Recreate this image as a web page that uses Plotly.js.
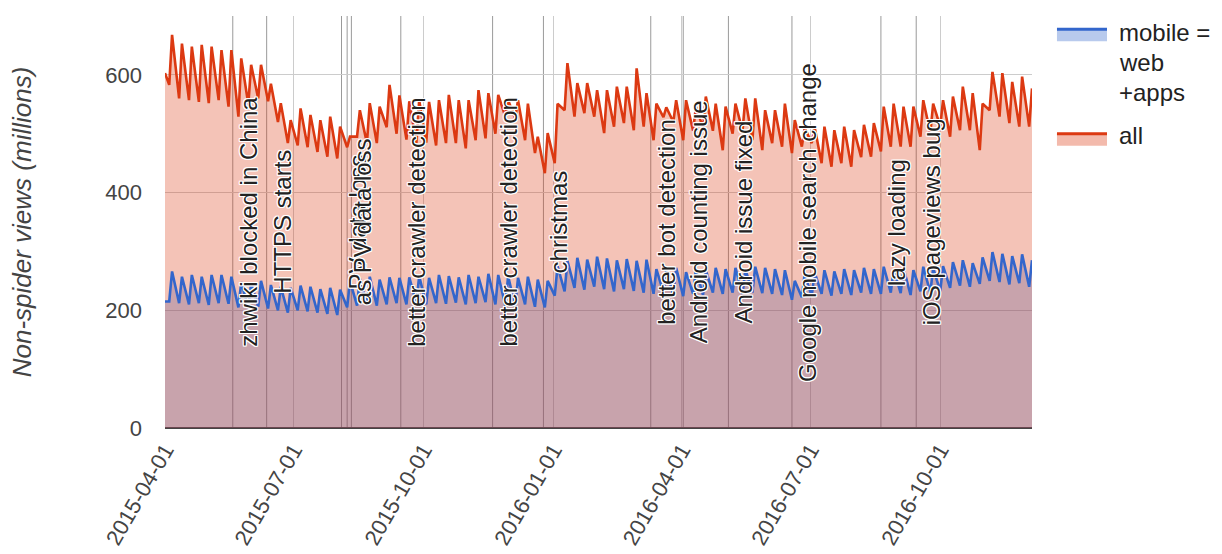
<!DOCTYPE html>
<html><head><meta charset="utf-8">
<script src="https://cdn.plot.ly/plotly-3.0.1.min.js"></script>
<style>html,body{margin:0;padding:0;background:#fff}#chart{width:1222px;height:554px}</style>
</head><body><div id="chart"></div>
<script>
// First data day and its values
const startDate = '2015-04-01';
const startAll = 603;
const startMobile = 215;
// Weekly lows (Saturdays, from 2015-04-04) and highs (Mondays, from 2015-04-06), millions
const weekLowStart = '2015-04-04';
const weekHighStart = '2015-04-06';
const allTrough = [583,560,557,554,552,557,546,529,550,560,
 555,520,484,480,477,469,461,458,477,495,
 484,484,511,500,490,484,485,480,484,484,
 475,489,492,500,529,526,489,467,433,450,
 540,529,535,529,501,512,518,506,512,489,
 528,520,489,505,510,505,472,500,505,489,
 472,484,478,467,478,484,450,444,450,444,
 460,461,470,478,478,478,495,501,512,495,
 506,506,472,540,529,518,512,512];
const allPeak = [668,653,648,651,648,642,642,628,617,617,
 585,552,523,543,532,523,529,512,495,540,
 552,546,583,565,555,557,554,557,566,557,
 557,574,569,566,557,557,551,495,501,551,
 620,586,586,574,574,580,580,611,569,551,
 545,557,557,546,563,551,546,551,560,560,
 540,540,551,523,510,512,512,506,512,506,
 515,518,546,551,546,546,557,551,557,563,
 580,569,551,605,603,588,597,577];
const mobileTrough = [215,212,210,212,209,212,211,
 205,204,206,
 203,200,196,200,198,196,194,192,
 205,208,210,208,210,212,
 210,212,210,212,211,213,210,212,214,210,
 208,206,210,206,205,
 225,232,238,235,240,236,232,236,233,230,
 228,230,226,224,228,226,230,228,
 230,228,230,229,228,226,
 218,222,
 224,228,225,228,226,230,228,
 228,230,229,226,232,230,232,
 238,242,240,245,250,248,244,246,240];
const mobilePeak = [266,257,260,257,260,260,257,
 248,246,250,
 243,240,238,242,240,236,238,235,
 250,254,257,252,256,255,
 256,258,255,260,258,256,260,257,262,260,
 258,255,257,252,250,
 275,284,289,286,291,288,285,287,284,286,
 270,268,272,265,270,268,272,270,
 272,270,274,272,270,268,
 250,262,
 265,268,266,270,268,272,270,
 274,270,272,268,274,272,275,
 282,285,280,290,299,296,292,295,285];

const tickDates = ['2015-04-01','2015-07-01','2015-10-01','2016-01-01','2016-04-01','2016-07-01','2016-10-01'];
const xRange = ['2015-04-01','2016-12-05'];

const eventDates = ['2015-05-19','2015-06-12','2015-08-04','2015-08-08','2015-08-11','2015-09-15','2015-11-19','2015-12-25','2016-03-10','2016-04-02','2016-05-04','2016-06-18','2016-08-20','2016-09-14'];
const eventLabels = ['zhwiki blocked in China','HTTPS starts','PV data loss','as PV data loss','','better crawler detection','better crawler detection','christmas','better bot detection','Android counting issue','Android issue fixed','Google mobile search change','lazy loading','iOS pageviews bug'];

const seriesNames = ['mobile = web +apps','all'];
const colors = {all:'#dc3912', mobile:'#3366cc'};

function addDays(iso, n){
  const d = new Date(iso + 'T00:00:00Z');
  d.setUTCDate(d.getUTCDate() + n);
  return d.toISOString().slice(0,10);
}
const xs = [startDate], yAll = [startAll], yMob = [startMobile];
for (let k = 0; k < allPeak.length; k++) {
  xs.push(addDays(weekLowStart, 7*k)); yAll.push(allTrough[k]); yMob.push(mobileTrough[k]);
  xs.push(addDays(weekHighStart, 7*k)); yAll.push(allPeak[k]); yMob.push(mobilePeak[k]);
}

const traces = [
  {x: xs, y: yMob, type:'scatter', mode:'none', fill:'tozeroy', fillcolor:'rgba(51,102,204,0.3)', hoverinfo:'skip', showlegend:false},
  {x: xs, y: yAll, type:'scatter', mode:'none', fill:'tozeroy', fillcolor:'rgba(220,57,18,0.3)', hoverinfo:'skip', showlegend:false},
  {x: xs, y: yMob, type:'scatter', mode:'lines', name: seriesNames[0], line:{color:colors.mobile, width:2.6}, showlegend:false},
  {x: xs, y: yAll, type:'scatter', mode:'lines', name: seriesNames[1], line:{color:colors.all, width:2.6}, showlegend:false}
];

const FONT = 'Liberation Sans, Arial, sans-serif';
const halo = '1px 0 0 #fff,-1px 0 0 #fff,0 1px 0 #fff,0 -1px 0 #fff,1px 1px 0 #fff,-1px -1px 0 #fff,1px -1px 0 #fff,-1px 1px 0 #fff';

const shapes = [];
const annotations = [];
eventDates.forEach((d, i) => {
  shapes.push({type:'line', xref:'x', yref:'paper', x0:d, x1:d, y0:0, y1:1, layer:'below', line:{color:'#9a9a9a', width:1}});
  if (eventLabels[i]) annotations.push({x:d, y:0.5, xref:'x', yref:'paper', text:eventLabels[i], showarrow:false, textangle:-90,
    xanchor:'center', yanchor:'middle', xshift:15, font:{family:FONT, size:24, color:'#222', shadow:halo}});
});

// Legend (drawn manually to match the reference layout)
const L = {x0:1.0288, x1:1.0865, tx:1.098};
shapes.push({type:'rect', xref:'paper', yref:'paper', x0:L.x0, x1:L.x1, y0:0.939, y1:0.968, line:{width:0}, fillcolor:'rgba(51,102,204,0.35)'});
shapes.push({type:'line', xref:'paper', yref:'paper', x0:L.x0, x1:L.x1, y0:0.968, y1:0.968, line:{color:colors.mobile, width:3}});
shapes.push({type:'rect', xref:'paper', yref:'paper', x0:L.x0, x1:L.x1, y0:0.685, y1:0.714, line:{width:0}, fillcolor:'rgba(220,57,18,0.35)'});
shapes.push({type:'line', xref:'paper', yref:'paper', x0:L.x0, x1:L.x1, y0:0.714, y1:0.714, line:{color:colors.all, width:3}});
const legFont = {family:FONT, size:24, color:'#222'};
[['mobile =',0.961],['web',0.888],['+apps',0.815],['all',0.711]].forEach(([t,y]) => {
  annotations.push({xref:'paper', yref:'paper', x:L.tx, y:y, text:t, showarrow:false, xanchor:'left', yanchor:'middle', font:legFont});
});

const layout = {
  width:1222, height:554,
  margin:{l:165, r:190, t:16, b:126},
  paper_bgcolor:'#fff', plot_bgcolor:'#fff',
  showlegend:false,
  font:{family:FONT, size:22, color:'#444'},
  xaxis:{type:'date', range:xRange, tickmode:'array', tickvals:tickDates, ticktext:tickDates,
    tickangle:-60, showgrid:true, gridcolor:'#cccccc', zeroline:false, showline:false, ticks:'',
    ticklabelstandoff:4, tickfont:{family:FONT, size:22, color:'#444'}},
  yaxis:{range:[0,700], tickvals:[0,200,400,600], showgrid:true, gridcolor:'#cccccc',
    zeroline:true, zerolinecolor:'#444', zerolinewidth:1.5, ticks:'', ticklabelstandoff:22,
    tickfont:{family:FONT, size:22, color:'#444'},
    title:{text:'Non-spider views (millions)', standoff:66, font:{family:FONT, size:26, color:'#444', style:'italic'}}},
  shapes: shapes,
  annotations: annotations
};

Plotly.newPlot('chart', traces, layout, {displayModeBar:false, staticPlot:true});
</script>
</body></html>
